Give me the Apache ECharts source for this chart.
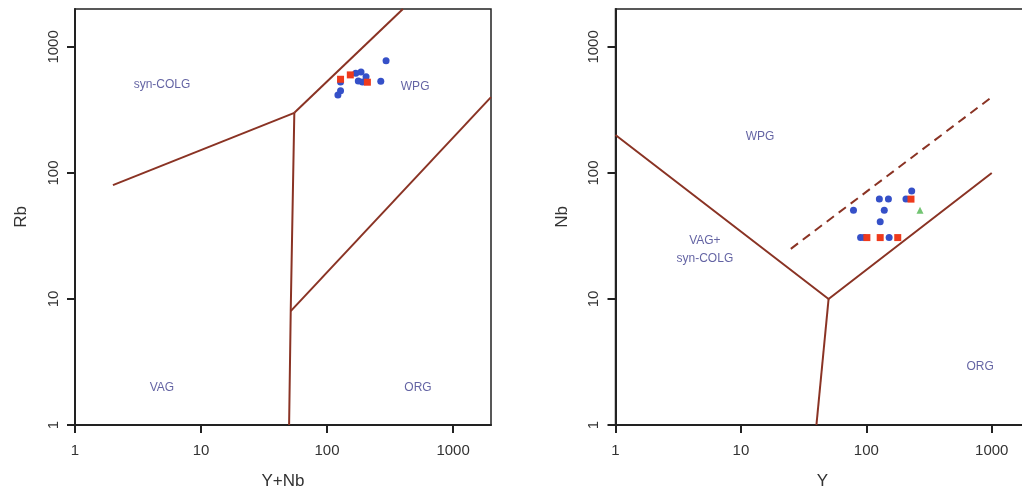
<!DOCTYPE html>
<html>
<head>
<meta charset="utf-8">
<script src="https://cdn.jsdelivr.net/npm/echarts@6/dist/echarts.min.js"></script>
<style>
html,body{margin:0;padding:0;background:#fff;}
#c{width:1022px;height:489px;}
</style>
</head>
<body>
<div id="c"></div>
<script>
// ---- data ----
const tickValues = [1, 10, 100, 1000];

// Left panel: Rb vs Y+Nb
const leftBlue = [[294,778],[128,527],[169,618],[186,634],[177,537],[191,527],[204,581],[267,534],[128,450],[122,416]];
const leftRed = [[128,554],[153,600],[209,525]];
const leftVAGsyn = [[2,80],[55,300]];
const leftWPGsyn = [[55,300],[400,2000]];
const leftVAGvert = [[55,300],[51.5,8],[50,1]];
const leftORGWPG = [[51.5,8],[2000,400]];
const leftLabels = [['syn-COLG',4.9,499],['WPG',500,481],['VAG',4.9,1.97],['ORG',527,1.97]];

// Right panel: Nb vs Y
const rightBlue = [[230,72],[207,62],[127,62],[150,62],[79,50.6],[139,50.6],[129,41],[90,30.7],[96,30.7],[152,30.7]];
const rightRed = [[227,62],[101,30.7],[129,30.7],[178,30.7]];
const rightGreen = [[268,50.6]];
const rightBoundA = [[1,200],[50,10],[1000,100]];
const rightBoundB = [[50,10],[40,1]];
const rightDashed = [[25,25],[1000,400]];
const rightLabels = [['WPG',14.2,193],['VAG+\nsyn-COLG',5.16,24.5],['ORG',808,2.9]];

// ---- styles ----
const FONT = '"Liberation Sans", Arial, sans-serif';
const LINE_COLOR = '#8a3324';
const BLUE = '#3550c8';
const RED = '#ee3a1c';
const GREEN = '#72c472';
const LABEL_COLOR = '#3c3c8c';

function logAxis(gridIndex, name, isY) {
  return {
    type: 'log', logBase: 10, gridIndex, min: 1, max: 2000,
    name, nameLocation: 'middle', nameGap: isY ? 45 : 48,
    nameTextStyle: {fontFamily: FONT, fontSize: 17, color: '#333'},
    axisLine: {show: true, onZero: false, lineStyle: {color: '#222', width: 2}},
    axisTick: {show: true, length: 8, customValues: tickValues, lineStyle: {color: '#222', width: 2}},
    axisLabel: {show: true, customValues: tickValues, rotate: isY ? 90 : 0, margin: isY ? 14 : 18,
      formatter: v => String(v), fontFamily: FONT, fontSize: 15, color: '#333'},
    splitLine: {show: false}, minorTick: {show: false}, minorSplitLine: {show: false}
  };
}

function lineSeries(idx, data, dashed) {
  return {
    type: 'line', xAxisIndex: idx, yAxisIndex: idx, data, symbol: 'none', silent: true, z: 2,
    lineStyle: {color: LINE_COLOR, width: 2, type: dashed ? [9, 6] : 'solid'}, animation: false
  };
}
function pointSeries(idx, data, symbol, color, size) {
  return {
    type: 'scatter', xAxisIndex: idx, yAxisIndex: idx, data, symbol, symbolSize: size, z: 5,
    itemStyle: {color, opacity: 1}, animation: false
  };
}
function labelSeries(idx, labels) {
  return {
    type: 'scatter', xAxisIndex: idx, yAxisIndex: idx, symbolSize: 0, z: 4, silent: true,
    data: labels.map(l => ({name: l[0], value: [l[1], l[2]]})),
    label: {show: true, position: 'inside', formatter: p => p.name, fontFamily: FONT, fontSize: 12,
      color: LABEL_COLOR, lineHeight: 18, align: 'center', verticalAlign: 'middle'},
    animation: false
  };
}

const chart = echarts.init(document.getElementById('c'), null, {renderer: 'canvas'});
chart.setOption({
  backgroundColor: '#fff',
  animation: false,
  grid: [
    {left: 75, top: 9, width: 416, height: 416, show: true, borderColor: '#222', borderWidth: 1.5,
     backgroundColor: 'transparent', containLabel: false, outerBoundsMode: 'none'},
    {left: 615.5, top: 9, width: 414, height: 416, show: true, borderColor: '#222', borderWidth: 1.5,
     backgroundColor: 'transparent', containLabel: false, outerBoundsMode: 'none'}
  ],
  xAxis: [logAxis(0, 'Y+Nb', false), logAxis(1, 'Y', false)],
  yAxis: [logAxis(0, 'Rb', true), logAxis(1, 'Nb', true)],
  series: [
    lineSeries(0, leftVAGsyn), lineSeries(0, leftWPGsyn), lineSeries(0, leftVAGvert), lineSeries(0, leftORGWPG),
    labelSeries(0, leftLabels),
    pointSeries(0, leftBlue, 'circle', BLUE, 7),
    pointSeries(0, leftRed, 'rect', RED, 7),
    lineSeries(1, rightBoundA), lineSeries(1, rightBoundB), lineSeries(1, rightDashed, true),
    labelSeries(1, rightLabels),
    pointSeries(1, rightBlue, 'circle', BLUE, 7),
    pointSeries(1, rightRed, 'rect', RED, 7),
    pointSeries(1, rightGreen, 'triangle', GREEN, 7)
  ]
});
</script>
</body>
</html>
